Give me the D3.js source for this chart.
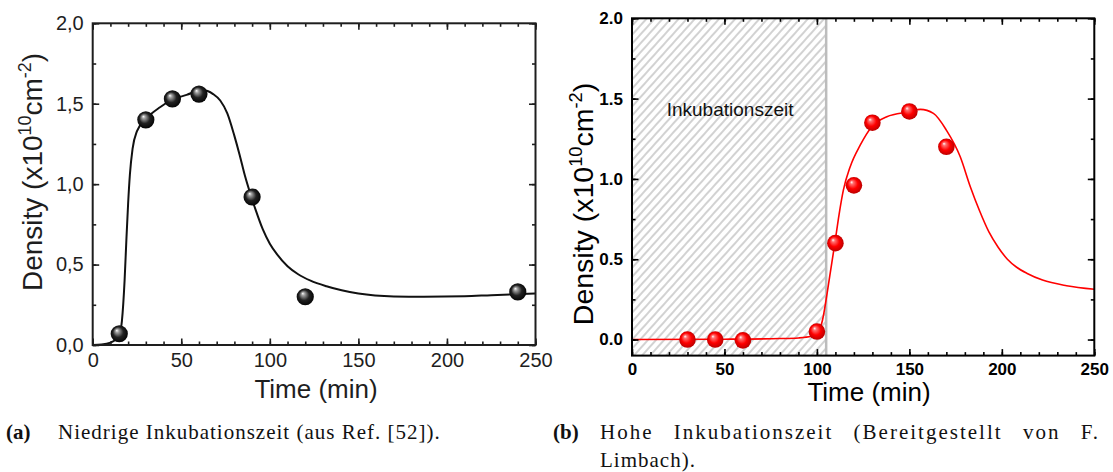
<!DOCTYPE html>
<html>
<head>
<meta charset="utf-8">
<script src="https://cdn.jsdelivr.net/npm/d3@7"></script>
<style>
  body { margin: 0; background: white; }
  svg { display: block; }
</style>
</head>
<body>
<div id="chart"></div>
<script>
// (a) low incubation time
const TIME_A = [15, 30, 45, 60, 90, 120, 240];
const DENSITY_A = [0.07, 1.40, 1.53, 1.56, 0.92, 0.30, 0.33];
const FIT_TIME_A = [0, 5, 10, 13, 15, 16.5, 18, 19, 20, 21, 22.5, 25, 30, 38, 45, 53, 62, 68, 72, 76, 80, 83, 86, 89, 92, 96, 100, 104, 110, 116, 123, 132, 150, 170, 187, 210, 225, 250];
const FIT_DENSITY_A = [0, 0.003, 0.015, 0.035, 0.065, 0.15, 0.4, 0.65, 0.88, 1.06, 1.22, 1.33, 1.405, 1.478, 1.525, 1.555, 1.585, 1.56, 1.52, 1.44, 1.30, 1.18, 1.05, 0.94, 0.84, 0.72, 0.63, 0.565, 0.49, 0.44, 0.40, 0.365, 0.32, 0.302, 0.30, 0.303, 0.31, 0.32];

// (b) high incubation time
const TIME_B = [30, 45, 60, 100, 110, 120, 130, 150, 170];
const DENSITY_B = [0.0, 0.0, -0.005, 0.05, 0.60, 0.96, 1.35, 1.42, 1.20];
const FIT_TIME_B = [0, 50, 80, 90, 97, 100, 103, 105, 107, 109.7, 112, 114.3, 118, 123.4, 129.7, 137.8, 150, 156, 163, 170, 177.5, 183, 188, 193, 198, 203, 208, 214, 222, 235, 250];
const FIT_DENSITY_B = [0, 0.002, 0.006, 0.01, 0.02, 0.035, 0.12, 0.25, 0.40, 0.6, 0.78, 0.93, 1.076, 1.21, 1.325, 1.387, 1.418, 1.433, 1.408, 1.304, 1.138, 0.95, 0.80, 0.67, 0.575, 0.50, 0.45, 0.41, 0.37, 0.335, 0.313];
const INCUBATION_END = 105;

const X_TICKS = [0, 50, 100, 150, 200, 250];
const Y_TICKS = [0, 0.5, 1.0, 1.5, 2.0];
const Y_LABELS_A = ["0,0", "0,5", "1,0", "1,5", "2,0"];
const Y_LABELS_B = ["0.0", "0.5", "1.0", "1.5", "2.0"];

const CAPTION_A = ["(a)", "Niedrige Inkubationszeit (aus Ref. [52])."];
const CAPTION_B = ["(b)", "Hohe Inkubationszeit (Bereitgestellt von F.", "Limbach)."];

var svg = d3.select("#chart")
  .append("svg")
  .attr("width", 1113)
  .attr("height", 472);

var defs = svg.append("defs");

function ballGradient(id, light, mid, dark)
{
  var g = defs.append("radialGradient")
    .attr("id", id)
    .attr("cx", "50%").attr("cy", "50%").attr("r", "55%")
    .attr("fx", "35%").attr("fy", "30%");
  g.append("stop").attr("offset", "0%").attr("stop-color", "#ffffff");
  g.append("stop").attr("offset", "18%").attr("stop-color", light);
  g.append("stop").attr("offset", "55%").attr("stop-color", mid);
  g.append("stop").attr("offset", "100%").attr("stop-color", dark);
}
ballGradient("ball-black", "#a0a0a0", "#222222", "#000000");
ballGradient("ball-red", "#ff7070", "#ff0000", "#b00000");

var hatch = defs.append("pattern")
  .attr("id", "hatch")
  .attr("patternUnits", "userSpaceOnUse")
  .attr("width", 6)
  .attr("height", 6)
  .attr("patternTransform", "rotate(42)");
hatch.append("line")
  .attr("x1", 1).attr("y1", 0).attr("x2", 1).attr("y2", 6)
  .attr("stroke", "#b4b4b4")
  .attr("stroke-width", 1.2);

function drawPanel(p)
{
  var x = d3.scaleLinear().domain([0, 250]).range([p.left, p.right]);
  var y = d3.scaleLinear().domain(p.yDomain).range([p.bottom, p.top]);
  var g = svg.append("g");

  if (p.hatchTo)
  {
    g.append("rect")
      .attr("x", x(0))
      .attr("y", p.top)
      .attr("width", x(p.hatchTo) - x(0))
      .attr("height", p.bottom - p.top)
      .attr("fill", "url(#hatch)");

    g.append("line")
      .attr("x1", x(p.hatchTo)).attr("x2", x(p.hatchTo))
      .attr("y1", p.top).attr("y2", p.bottom)
      .attr("stroke", "#bcbcbc")
      .attr("stroke-width", 2.5);

    g.append("text")
      .text("Inkubationszeit")
      .attr("x", x(p.hatchTo / 2) + 1)
      .attr("y", y(1.39))
      .attr("text-anchor", "middle")
      .style("font-family", "'Liberation Sans', Arial, sans-serif")
      .style("font-size", "19px")
      .style("fill", "#111");
  }

  var fit = d3.zip(p.fitTime, p.fitDensity);
  var line = d3.line()
    .x(function(d) { return x(d[0]); })
    .y(function(d) { return y(d[1]); })
    .curve(d3.curveMonotoneX);

  g.append("path")
    .datum(fit)
    .attr("d", line)
    .attr("fill", "none")
    .attr("stroke", p.lineColor)
    .attr("stroke-width", p.lineWidth);

  g.append("g").selectAll("circle")
    .data(d3.zip(p.time, p.density))
    .enter()
    .append("circle")
    .attr("cx", function(d) { return x(d[0]); })
    .attr("cy", function(d) { return y(d[1]); })
    .attr("r", p.ballR)
    .attr("fill", p.ball);

  // ticks, all inward on the four sides
  var minorX = d3.range(0, 251, 10);
  var minorY = d3.range(0, 2.01, 0.25);
  var axes = [
    [d3.axisBottom(x), "translate(0," + p.bottom + ")", minorX, X_TICKS, true],
    [d3.axisTop(x), "translate(0," + p.top + ")", minorX, X_TICKS, false],
    [d3.axisLeft(y), "translate(" + p.left + ",0)", minorY, Y_TICKS, true],
    [d3.axisRight(y), "translate(" + p.right + ",0)", minorY, Y_TICKS, false]
  ];
  axes.forEach(function(a, i) {
    g.append("g")
      .attr("transform", a[1])
      .call(a[0].tickValues(a[2]).tickSize(-3.5).tickFormat(""))
      .call(function(s) { s.select(".domain").remove(); })
      .selectAll("line").attr("stroke", p.axisColor).attr("stroke-width", 1.6);

    var major = g.append("g")
      .attr("transform", a[1])
      .call(a[0].tickValues(a[3]).tickSize(-6.5).tickPadding(i < 2 ? p.xPad : 9)
        .tickFormat(function(d, k) {
          if (!a[4]) return "";
          return i < 2 ? String(d) : p.yLabels[k];
        }));
    major.select(".domain").remove();
    major.selectAll("line").attr("stroke", p.axisColor).attr("stroke-width", 1.6);
    major.selectAll("text")
      .style("font-family", "'Liberation Sans', Arial, sans-serif")
      .style("font-size", p.tickFont + "px")
      .style("font-weight", p.tickWeight)
      .style("fill", p.axisColor);
  });

  g.append("rect")
    .attr("x", p.left)
    .attr("y", p.top)
    .attr("width", p.right - p.left)
    .attr("height", p.bottom - p.top)
    .attr("fill", "none")
    .attr("stroke", p.axisColor)
    .attr("stroke-width", 2);

  g.append("text")
    .text("Time (min)")
    .attr("x", p.xLabelX)
    .attr("y", p.xLabelY)
    .attr("text-anchor", "middle")
    .style("font-family", "'Liberation Sans', Arial, sans-serif")
    .style("font-size", p.labelFont + "px")
    .style("fill", p.axisColor);

  var yl = g.append("text")
    .attr("transform", "translate(" + p.yLabelX + "," + p.yLabelY + ") rotate(-90)")
    .attr("text-anchor", "middle")
    .style("font-family", "'Liberation Sans', Arial, sans-serif")
    .style("font-size", p.yLabelFont + "px")
    .style("fill", p.axisColor);
  yl.append("tspan").text("Density (x10");
  yl.append("tspan").text("10").attr("dy", -11).style("font-size", "0.64em");
  yl.append("tspan").text("cm").attr("dy", 11);
  yl.append("tspan").text("-2").attr("dy", -11).style("font-size", "0.64em");
  yl.append("tspan").text(")").attr("dy", 11);
}

drawPanel({
  left: 92.7, right: 535.5, top: 23.3, bottom: 345,
  yDomain: [0, 2],
  time: TIME_A, density: DENSITY_A,
  fitTime: FIT_TIME_A, fitDensity: FIT_DENSITY_A,
  lineColor: "#111", lineWidth: 2, ball: "url(#ball-black)", ballR: 8.6,
  axisColor: "#1e1e1e", yLabels: Y_LABELS_A,
  tickFont: 20, tickWeight: "normal", xPad: 8, labelFont: 26, yLabelFont: 28,
  xLabelX: 316, xLabelY: 398, yLabelX: 42, yLabelY: 172
});

drawPanel({
  left: 632, right: 1094.3, top: 18.3, bottom: 355.6,
  yDomain: [-0.1, 2.0],
  time: TIME_B, density: DENSITY_B,
  fitTime: FIT_TIME_B, fitDensity: FIT_DENSITY_B,
  lineColor: "#ff0000", lineWidth: 1.6, ball: "url(#ball-red)", ballR: 8.3,
  hatchTo: INCUBATION_END,
  axisColor: "#000", yLabels: Y_LABELS_B,
  tickFont: 17, tickWeight: "bold", xPad: 7, labelFont: 26, yLabelFont: 28.5,
  xLabelX: 869, xLabelY: 401, yLabelX: 593, yLabelY: 204
});

// captions; the first line of (b) is stretched to the right edge like the LaTeX original
function caption(lines, x, textX, y, justify)
{
  var c = svg.append("g").style("font-family", "'Liberation Serif', 'Times New Roman', serif")
    .style("font-size", "21px").style("fill", "#111");
  c.append("text").text(lines[0]).attr("x", x).attr("y", y).style("font-weight", "bold");
  lines.slice(1).forEach(function(t, i) {
    var stretch = justify && i < lines.length - 2;
    var tx = c.append("text").text(t)
      .attr("x", textX)
      .attr("y", y + i * 28)
      .style("letter-spacing", stretch ? "2px" : "1px");
    if (stretch)
    {
      var spaces = t.split(" ").length - 1;
      var extra = (justify - textX - tx.node().getComputedTextLength()) / spaces;
      tx.style("word-spacing", Math.max(0, extra) + "px");
    }
  });
}
caption(CAPTION_A, 6, 58, 439, 0);
caption(CAPTION_B, 553, 600, 439, 1100);
</script>
</body>
</html>
